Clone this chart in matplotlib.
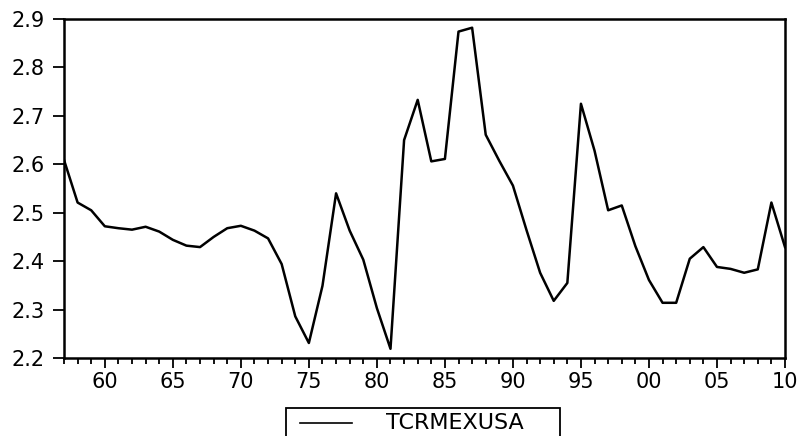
import matplotlib
matplotlib.use("Agg")
import matplotlib.pyplot as plt
from matplotlib.ticker import MultipleLocator
from matplotlib.patches import Rectangle
from matplotlib.lines import Line2D

years = list(range(1957, 2011))
tcrmexusa = [
    2.609, 2.521, 2.505, 2.472, 2.468, 2.465, 2.471, 2.461, 2.444, 2.432,
    2.429, 2.450, 2.468, 2.473, 2.463, 2.447, 2.394, 2.286, 2.231, 2.349,
    2.540, 2.463, 2.403, 2.303, 2.219, 2.650, 2.733, 2.606, 2.611, 2.874,
    2.882, 2.661, 2.607, 2.556, 2.464, 2.376, 2.318, 2.355, 2.725, 2.628,
    2.505, 2.515, 2.431, 2.361, 2.314, 2.314, 2.405, 2.429, 2.388, 2.384,
    2.376, 2.383, 2.521, 2.429,
]
series_name = "TCRMEXUSA"
xticks = [1960, 1965, 1970, 1975, 1980, 1985, 1990, 1995, 2000, 2005, 2010]
xticklabels = ["60", "65", "70", "75", "80", "85", "90", "95", "00", "05", "10"]
yticks = [2.2, 2.3, 2.4, 2.5, 2.6, 2.7, 2.8, 2.9]

plt.rcParams['font.family'] = ['DejaVu Sans']

W, H = 801, 436
fig = plt.figure(figsize=(W / 100, H / 100), dpi=100)
ax = fig.add_axes([64/W, 78/H, (785-64)/W, (358-19)/H])

line, = ax.plot(years, tcrmexusa, color="black", linewidth=1.8, label=series_name)

ax.set_xlim(1957, 2010)
ax.set_ylim(2.2, 2.9)
ax.set_yticks(yticks)
ax.set_yticklabels([f"{v:.1f}" for v in yticks])
ax.set_xticks(xticks)
ax.set_xticklabels(xticklabels)
ax.xaxis.set_minor_locator(MultipleLocator(1))

ax.tick_params(axis='both', which='major', direction='out', labelsize=15,
               colors='black', width=1.3)
ax.tick_params(axis='x', which='major', length=7, pad=3)
ax.tick_params(axis='x', which='minor', length=4, width=1.3, direction='out')
ax.tick_params(axis='y', which='major', length=8, pad=6)

for s in ax.spines.values():
    s.set_linewidth(1.8)
    s.set_color('black')

# legend box (EViews style, cut by the bottom edge of the image)
fig.patches.append(Rectangle((286/W, -0.02), (560-286)/W, (H-408)/H + 0.02,
                             transform=fig.transFigure, facecolor='white',
                             edgecolor='black', linewidth=1.3))
fig.lines.append(Line2D([300/W, 352/W], [1 - 423/H, 1 - 423/H],
                        transform=fig.transFigure, color='black', linewidth=1.2))
fig.text(455/W, 1 - 423/H, series_name, fontsize=16, ha='center', va='center',
         color='black')

fig.savefig("out.png", dpi=100)
